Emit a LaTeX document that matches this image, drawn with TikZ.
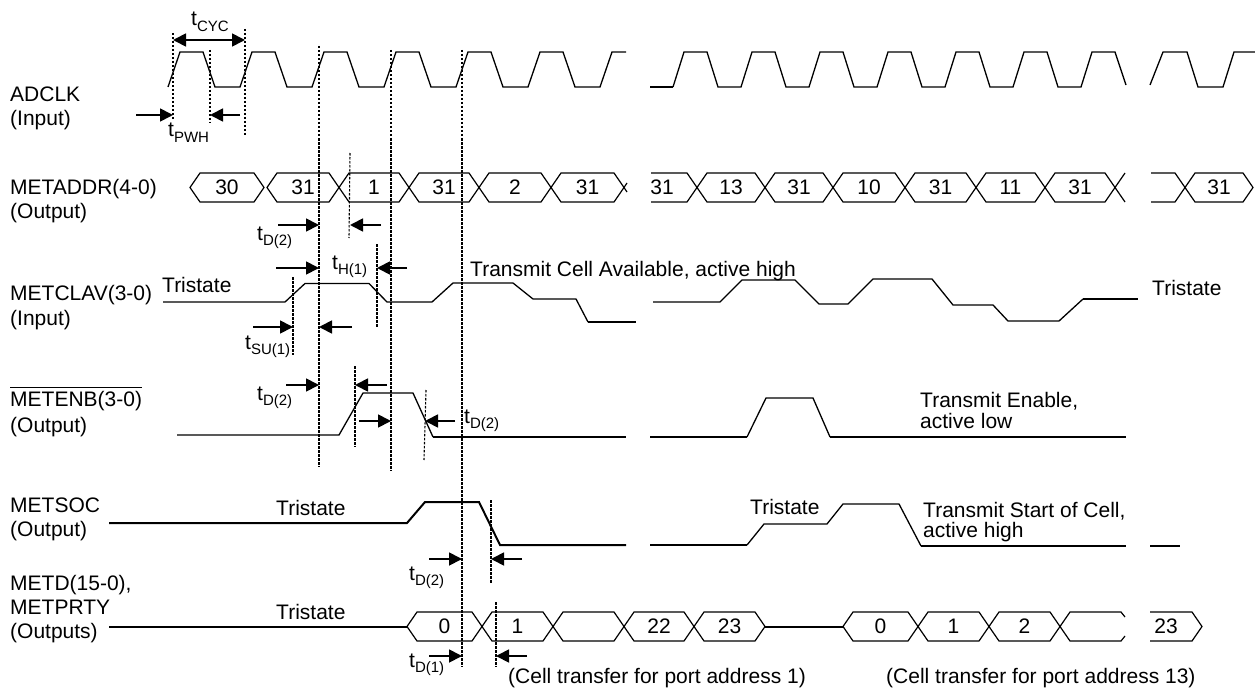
\documentclass[tikz,border=0pt]{standalone}
\usepackage{fontspec}
\setmainfont{Liberation Sans}
\usetikzlibrary{arrows.meta}
\newcommand{\tsub}[1]{t\raisebox{-5.5pt}{\fontsize{15}{15}\selectfont #1}}
\newcommand{\hexcell}[5]{%
        \draw[bus] (#1,#3) -- ({#1+10},{#3-14.5}) -- ({#2-10},{#3-14.5}) -- (#2,#3) -- ({#2-10},{#3+14.5}) -- ({#1+10},{#3+14.5}) -- cycle;
        \node (#5) at ({(#1+#2)/2},#3) {#4};}
\begin{document}
\begin{tikzpicture}[x=1pt,y=-1pt,
        every node/.style={font=\fontsize{21}{25}\selectfont,inner sep=0pt},
        sig/.style={anchor=base west},
        wave/.style={line width=1.3pt},
        heavy/.style={line width=2pt},
        bus/.style={line width=1.2pt},
        guide/.style={line width=1.1pt,dash pattern=on 2.5pt off 1.5pt},
        hatch/.style={guide,line width=1.9pt},
        dim/.style={line width=1.8pt,-{Triangle[length=13pt,width=13pt]}},
        dimboth/.style={line width=1.8pt,{Triangle[length=13pt,width=13pt]}-{Triangle[length=13pt,width=13pt]}}]
        \useasboundingbox (0,0) rectangle (1255,690);

        \node[sig] (adclk) at (10,102) {ADCLK};
        \node[sig] (adclkio) at (10,126) {(Input)};
        \node[sig] (metaddr) at (10,194) {METADDR(4-0)};
        \node[sig] (metaddrio) at (10,218) {(Output)};
        \node[sig] (metclav) at (10,300) {METCLAV(3-0)};
        \node[sig] (metclavio) at (10,325) {(Input)};
        \node[sig] (metenb) at (10,406) {METENB(3-0)};
        \draw[line width=1pt] ([yshift=3pt]metenb.north west) -- ([yshift=3pt]metenb.north east);
        \node[sig] (metenbio) at (10,432) {(Output)};
        \node[sig] (metsoc) at (10,512) {METSOC};
        \node[sig] (metsocio) at (10,536) {(Output)};
        \node[sig] (metd) at (10,590) {METD(15-0),};
        \node[sig] (metprty) at (10,614) {METPRTY};
        \node[sig] (metdio) at (10,638) {(Outputs)};

        \draw[wave] (168,87) -- (180,52) -- (203,52) -- (215,87) -- (240,87) -- (252,52) -- (275,52) -- (287,87) -- (312,87) -- (324,52) -- (347,52) -- (359,87) -- (384,87) -- (396,52) -- (419,52) -- (431,87) -- (456,87) -- (468,52) -- (491,52) -- (503,87) -- (528,87) -- (540,52) -- (563,52) -- (575,87) -- (600,87) -- (612,52) -- (626,52);
        \draw[heavy] (650,87) -- (673,87);
        \draw[wave] (673,87) -- (684,52) -- (707,52) -- (718,87) -- (741,87) -- (752,52) -- (775,52) -- (786,87) -- (809,87) -- (820,52) -- (843,52) -- (854,87) -- (877,87) -- (888,52) -- (911,52) -- (922,87) -- (945,87) -- (956,52) -- (979,52) -- (990,87) -- (1013,87) -- (1024,52) -- (1047,52) -- (1058,87) -- (1081,87) -- (1092,52) -- (1115,52) -- (1126,85);
        \draw[wave] (1150,85) -- (1163,52) -- (1187,52) -- (1198,87) -- (1223,87) -- (1234,52) -- (1255,52);

        \hexcell{190}{264}{187.5}{30}{a1}
        \hexcell{267}{339}{187.5}{31}{a2}
        \hexcell{339}{409}{187.5}{1}{a3}
        \hexcell{409}{479}{187.5}{31}{a4}
        \hexcell{479}{551}{187.5}{2}{a5}
        \hexcell{551}{624}{187.5}{31}{a6}
        \draw[bus] (624,187.5) -- (627,183) (624,187.5) -- (627,192);
        \draw[bus] (651,173) -- (687,173) -- (697,187.5) -- (687,202) -- (651,202);
        \node (b1) at (662,187.5) {31};
        \hexcell{697}{765}{187.5}{13}{b2}
        \hexcell{765}{833}{187.5}{31}{b3}
        \hexcell{833}{905}{187.5}{10}{b4}
        \hexcell{905}{976}{187.5}{31}{b5}
        \hexcell{976}{1045}{187.5}{11}{b6}
        \hexcell{1045}{1115}{187.5}{31}{b7}
        \draw[bus] (1115,187.5) -- (1125,173) (1115,187.5) -- (1125,202);
        \draw[bus] (1151,173) -- (1175,173) -- (1185,187.5) -- (1175,202) -- (1151,202);
        \hexcell{1185}{1253}{187.5}{31}{c1}

        \draw[wave] (163,302) -- (285,302) -- (305,283.5) -- (369,283.5) -- (387,302) -- (432,302) -- (453,283) -- (513,283) -- (533,299) -- (576,299) -- (588,322);
        \draw[heavy] (588,322) -- (636,322);
        \draw[wave] (653,302) -- (720,302) -- (742,280) -- (795,280) -- (819,304) -- (848,304) -- (873,279) -- (932,279) -- (953,305) -- (993,305) -- (1008,321) -- (1059,321) -- (1083,299);
        \draw[heavy] (1083,299) -- (1138,299);
        \node[sig] (clavtri) at (162,292) {Tristate};
        \node[sig] (clavtxt) at (470,276) {Transmit Cell Available, active high};
        \node[sig] (clavtri2) at (1152,295) {Tristate};

        \draw[wave] (177,435) -- (339,435) -- (363,393) -- (413,393) -- (433,437);
        \draw[heavy] (433,437) -- (626,437);
        \draw[heavy] (650,437) -- (747,437);
        \draw[wave] (747,437) -- (766,398) -- (813,398) -- (830,437);
        \draw[heavy] (830,437) -- (1126,437);
        \node[sig] (enbtxt) at (920,407) {Transmit Enable,};
        \node[sig] (enbtxt2) at (920,428) {active low};

        \draw[heavy] (109,523) -- (407,523) -- (425,502) -- (479,502) -- (500,545) -- (626,545);
        \draw[heavy] (650,545) -- (747,545);
        \draw[wave] (747,545) -- (764,524) -- (827,524) -- (843,504) -- (899,504) -- (921,546);
        \draw[heavy] (921,546) -- (1126,546);
        \draw[heavy] (1150,546) -- (1180,546);
        \node[sig] (soctri) at (276,515) {Tristate};
        \node[sig] (soctri2) at (750,514) {Tristate};
        \node[sig] (soctxt) at (923,517) {Transmit Start of Cell,};
        \node[sig] (soctxt2) at (923,537) {active high};

        \draw[heavy] (109,626.5) -- (407,626.5);
        \hexcell{407}{482}{626.5}{0}{d1}
        \hexcell{482}{553}{626.5}{1}{d2}
        \hexcell{553}{624}{626.5}{}{d3}
        \hexcell{624}{694}{626.5}{22}{d4}
        \hexcell{694}{765}{626.5}{23}{d5}
        \draw[heavy] (765,626.5) -- (843,626.5);
        \hexcell{843}{918}{626.5}{0}{e1}
        \hexcell{918}{989}{626.5}{1}{e2}
        \hexcell{989}{1060}{626.5}{2}{e3}
        \draw[bus] (1125,617) -- (1121,612) -- (1070,612) -- (1060,626.5) -- (1070,641) -- (1121,641) -- (1125,636);
        \draw[bus] (1150,612) -- (1192,612) -- (1202,626.5) -- (1192,641) -- (1150,641);
        \node (e5) at (1166,626.5) {23};
        \node[sig] (dtri) at (276,619) {Tristate};
        \node[sig] (cell1) at (508,683) {(Cell transfer for port address 1)};
        \node[sig] (cell13) at (886,683) {(Cell transfer for port address 13)};

        \draw[hatch] (173,33) -- (173,120);
        \draw[guide] (210,50) -- (210,123);
        \draw[hatch] (245,29) -- (245,137);
        \draw[guide] (319,46) -- (319,467);
        \draw[guide] (391,50) -- (391,471);
        \draw[hatch] (462,50) -- (462,667);
        \draw[guide] (350,153) -- (349,238);
        \draw[guide] (293,277) -- (293,355);
        \draw[guide] (377,244) -- (377,327);
        \draw[hatch] (355,366) -- (355,447);
        \draw[guide] (426,390) -- (424,460);
        \draw[guide] (491,500) -- (491,583);
        \draw[guide] (496,602) -- (496,667);

        \draw[dimboth] (173,40) -- (245,40);
        \node[sig] (tcyc) at (191,26) {\tsub{CYC}};
        \draw[dim] (136,115) -- (173,115);
        \draw[dim] (240,115) -- (210,115);
        \node[sig] (tpwh) at (168,137) {\tsub{PWH}};

        \draw[dim] (278,225) -- (319,225);
        \draw[dim] (381,225) -- (350,225);
        \node[sig] (tdaddr) at (257,240) {\tsub{D(2)}};
        \draw[dim] (276,268) -- (319,268);
        \draw[dim] (407,268) -- (377,268);
        \node[sig] (th) at (332,269) {\tsub{H(1)}};
        \draw[dim] (253,327) -- (293,327);
        \draw[dim] (352,327) -- (319,327);
        \node[sig] (tsu) at (245,349) {\tsub{SU(1)}};

        \draw[dim] (286,385) -- (319,385);
        \draw[dim] (387,385) -- (355,385);
        \node[sig] (tdenb) at (257,400) {\tsub{D(2)}};
        \draw[dim] (359,421) -- (391,421);
        \draw[dim] (455,421) -- (425,421);
        \node[sig] (tdenb2) at (464,423) {\tsub{D(2)}};

        \draw[dim] (429,559) -- (462,559);
        \draw[dim] (522,559) -- (491,559);
        \node[sig] (tdsoc) at (409,580) {\tsub{D(2)}};
        \draw[dim] (429,656) -- (462,656);
        \draw[dim] (527,656) -- (496,656);
        \node[sig] (tdd) at (409,667) {\tsub{D(1)}};
\end{tikzpicture}
\end{document}
